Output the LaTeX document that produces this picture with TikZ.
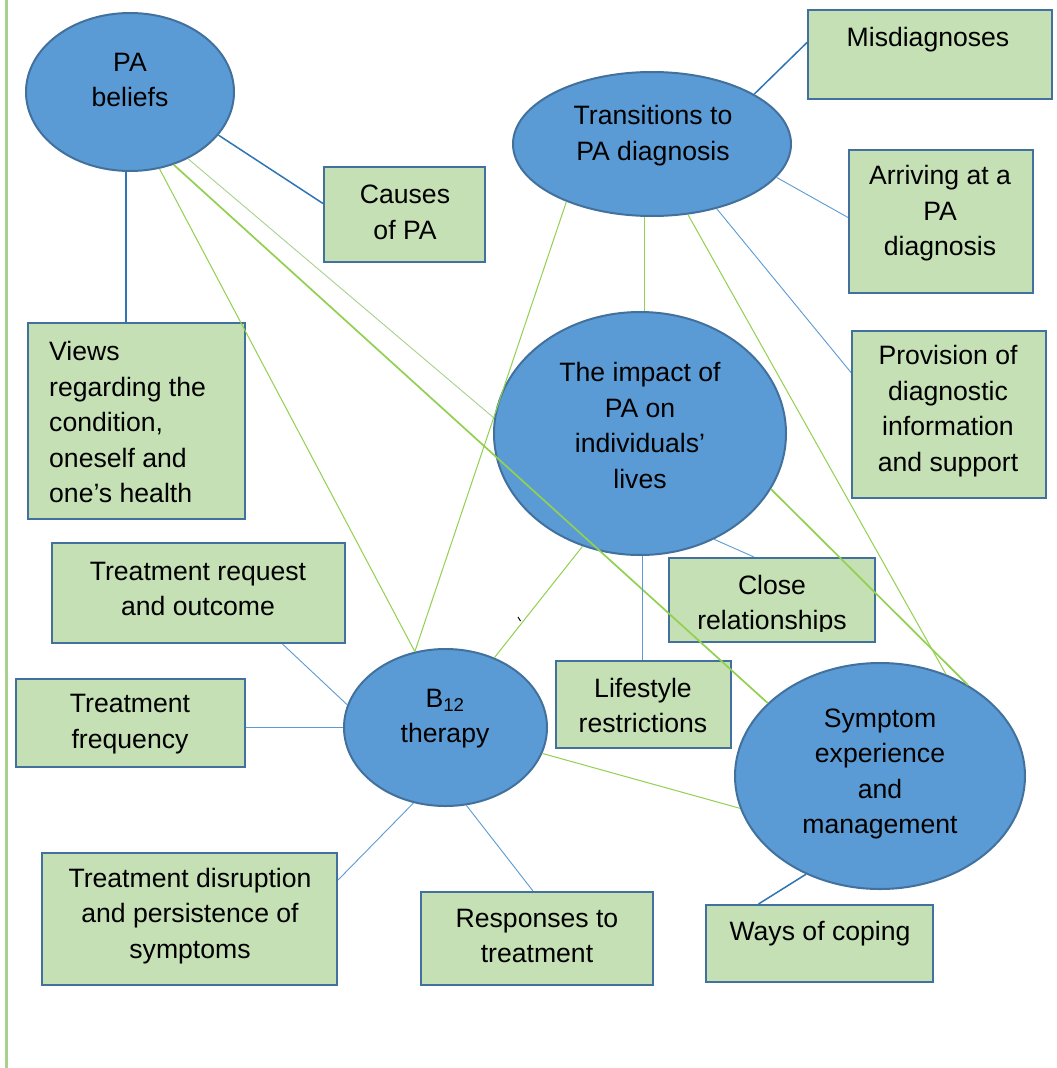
\documentclass[tikz,border=0pt]{standalone}
\usepackage{fontspec}
\setmainfont{Liberation Sans}
\usetikzlibrary{shapes.geometric,calc}
\definecolor{ellfill}{HTML}{5B9BD5}
\definecolor{ellline}{HTML}{41719C}
\definecolor{boxfill}{HTML}{C5E0B4}
\definecolor{darkblue}{HTML}{2E75B6}
\definecolor{lightblue}{HTML}{5B9BD5}
\definecolor{lgreen}{HTML}{92D050}
\definecolor{palegreen}{HTML}{A9D18E}
\begin{document}
\begin{tikzpicture}[x=1pt,y=-1pt,
  ell/.style={ellipse, draw=ellline, fill=ellfill, line width=2pt, inner sep=0pt},
  bx/.style={rectangle, draw=ellline, fill=boxfill, line width=2pt, inner sep=0pt},
  txt/.style={font=\fontsize{26.6}{35.5}\selectfont, align=center, inner sep=0pt},
  dblue/.style={draw=darkblue, line width=1.5pt},
  lblue/.style={draw=lightblue, line width=0.9pt},
  grn/.style={draw=lgreen, line width=1pt},
  grnthick/.style={draw=lgreen, line width=1.7pt},
  grnpale/.style={draw=palegreen, line width=0.9pt}]
\useasboundingbox (0,0) rectangle (1057,1068);
\fill[white] (0,0) rectangle (1057,1068);
\draw[palegreen, line width=3pt] (6,0) -- (6,1068);

% ellipses
\node[ell, minimum width=208pt, minimum height=158pt] (pab) at (130,92) {};
\node[ell, minimum width=278pt, minimum height=144pt] (trans) at (652,144) {};
\node[ell, minimum width=292pt, minimum height=243pt] (imp) at (640,433.5) {};
\node[ell, minimum width=203pt, minimum height=157pt] (b12) at (445.5,727.5) {};
\node[ell, minimum width=290pt, minimum height=226pt] (sym) at (880,776) {};

% boxes
\node[bx, minimum width=161pt, minimum height=95pt] (causes) at (404.5,214.5) {};
\node[bx, minimum width=217pt, minimum height=196pt] (views) at (136.5,421) {};
\node[bx, minimum width=244pt, minimum height=89pt] (misd) at (930,54.5) {};
\node[bx, minimum width=184pt, minimum height=143pt] (arr) at (941,221.5) {};
\node[bx, minimum width=194pt, minimum height=167pt] (prov) at (949,414.5) {};
\node[bx, minimum width=293pt, minimum height=100pt] (treq) at (198.5,593) {};
\node[bx, minimum width=206pt, minimum height=84pt] (close) at (772,600) {};
\node[bx, minimum width=229pt, minimum height=88pt] (tfreq) at (130.5,723) {};
\node[bx, minimum width=175pt, minimum height=87pt] (life) at (643.5,704.5) {};
\node[bx, minimum width=295pt, minimum height=132pt] (tdis) at (189.5,919) {};
\node[bx, minimum width=232pt, minimum height=93pt] (resp) at (537,938.5) {};
\node[bx, minimum width=227pt, minimum height=77pt] (ways) at (819.5,943.5) {};

% connectors
\draw[dblue] (pab.-93) -- (pab.-93 |- views.north);
\draw[dblue] (pab.-26) -- ([yshift=11pt]causes.west);
\draw[grn] (pab.-69) -- (b12.112);
\draw[grnthick] (pab.-59) -- (sym.147);
\draw[grnpale] (pab.-49) -- (imp.174);
\draw[dblue] (trans.26) -- ([yshift=12pt]misd.west);
\draw[lblue] (trans.-15) -- ([yshift=4pt]arr.west);
\draw[lblue] (trans.-45) -- ([yshift=42pt]prov.west);
\draw[grn] (trans.-146) -- (b12.112);
\draw[grn] (trans.-96) -- (trans.-96 |- imp.north);
\draw[grn] (trans.-63) -- (sym.57);
\draw[lblue] (imp.-55) -- ([xshift=-18pt]close.north);
\draw[lblue] (imp.-89) -- (imp.-89 |- life.north);
\draw[grnthick] (imp.-23) -- (sym.46);
\draw[grn] (imp.-117) -- (b12.55);
\draw[grn] (b12.-15) -- (sym.-167);
\draw[lblue] ([xshift=84pt]treq.south) -- (b12.167);
\coordinate (tfe) at ([yshift=-4pt]tfreq.east);
\draw[lblue] (tfe) -- (b12.west |- tfe);
\draw[lblue] (b12.-113) -- ([yshift=39pt]tdis.east);
\draw[lblue] (b12.-75) -- ([xshift=-4pt]resp.north);
\draw[dblue] (sym.-127) -- ([xshift=-61pt]ways.north);
\coordinate (tick) at (518,617);
\draw[black, line width=1pt] (tick) -- ++(2.5,4);

% texts
\node[txt] (pabt) at (130,80) {PA\\beliefs};
\node[txt] (transt) at (653,135.5) {Transitions to\\PA diagnosis};
\node[txt] (impt) at (640,425.5) {The impact of\\PA on\\individuals’\\lives};
\node[txt] (b12t) at (445,718.5) {B\textsubscript{12}\\therapy};
\node[txt] (symt) at (880,774) {Symptom\\experience\\and\\management};
\node[txt] (causest) at (405,212.5) {Causes\\of PA};
\node[txt, align=left, anchor=west] (viewst) at (49,422) {Views\\regarding the\\condition,\\oneself and\\one’s health};
\node[txt] (misdt) at (928,39.5) {Misdiagnoses};
\node[txt] (arrt) at (940,213.5) {Arriving at a\\PA\\diagnosis};
\node[txt] (provt) at (948,411) {Provision of\\diagnostic\\information\\and support};
\node[txt] (treqt) at (198,589) {Treatment request\\and outcome};
\begin{scope}
\clip (close.north west) rectangle ([yshift=12pt]close.south east);
\node[txt] (closet) at (772,605) {Close\\relationships};
\end{scope}
\node[txt] (tfreqt) at (130,724) {Treatment\\frequency};
\node[txt] (lifet) at (643,705.5) {Lifestyle\\restrictions};
\node[txt] (tdist) at (190,916) {Treatment disruption\\and persistence of\\symptoms};
\node[txt] (respt) at (537,936) {Responses to\\treatment};
\node[txt] (wayst) at (820,933.5) {Ways of coping};
\end{tikzpicture}
\end{document}
